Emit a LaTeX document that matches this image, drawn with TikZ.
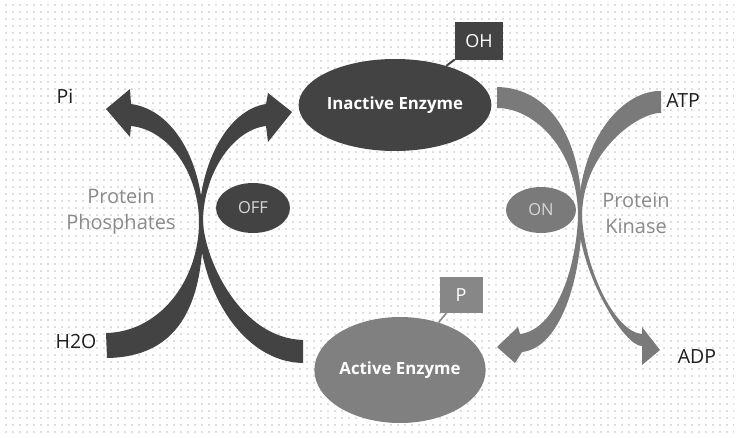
\documentclass[tikz,border=0pt]{standalone}
\usepackage{fontspec}
\setmainfont{Open Sans}
\usetikzlibrary{shapes.geometric,patterns.meta}
\definecolor{darkg}{HTML}{434343}
\definecolor{midg}{HTML}{7A7A7A}
\definecolor{actg}{HTML}{808080}
\definecolor{boxg}{HTML}{878787}
\definecolor{txtg}{HTML}{8A8A8A}
\definecolor{offtxt}{HTML}{D8D8D8}
\definecolor{lbl}{HTML}{1E1E1E}
\begin{document}
\begin{tikzpicture}[x=1pt,y=-1pt,
  enz/.style={ellipse, inner sep=0pt, text=white, font=\fontsize{16.8}{20}\selectfont\bfseries},
  tagbox/.style={rectangle, inner sep=0pt, text=white, font=\fontsize{18}{20}\selectfont},
  sw/.style={ellipse, inner sep=0pt, text=offtxt, font=\fontsize{16.5}{20}\selectfont},
  plab/.style={align=center, text=txtg, inner sep=0pt, font=\fontsize{20}{26}\selectfont},
  lab/.style={text=lbl, inner sep=0pt, font=\fontsize{19.5}{22}\selectfont},
  darkarrow/.style={fill=darkg},
  grayarrow/.style={fill=midg}]
\useasboundingbox (0,0) rectangle (738,438);
\fill[white] (0,0) rectangle (738,438);
\fill[pattern={Dots[distance=6.5pt,radius=0.7pt]}, pattern color=black!55] (4,4) rectangle (734,434);

% left ")" arrow: H2O -> Pi
\fill[darkarrow] (106,333) .. controls (160,332) and (199,280) .. (199,222)
  .. controls (199,175) and (170,130) .. (131,126)
  -- (130,137) -- (106,109) -- (130,89) -- (131,104)
  .. controls (175,110) and (203,165) .. (203,222)
  .. controls (204,310) and (175,357) .. (107,358) -- cycle;
% left "(" arrow: Active -> Inactive
\fill[darkarrow] (303,340) .. controls (240,338) and (205,260) .. (203,222)
  .. controls (203,175) and (232,130) .. (266,126)
  -- (268,142) -- (292,112) -- (268,93) -- (266,104)
  .. controls (227,110) and (199,165) .. (199,222)
  .. controls (199,285) and (240,362) .. (303,363) -- cycle;
% right ")" arrow: Inactive -> Active
\fill[grayarrow] (497,87) .. controls (548,88) and (582,135) .. (582,217)
  .. controls (581,280) and (560,348) .. (522,352)
  -- (515,363) -- (497,347) -- (518,327) -- (520,334)
  .. controls (555,330) and (576,270) .. (578,217)
  .. controls (578,150) and (535,108) .. (497,108) -- cycle;
% right "(" arrow: ATP -> ADP
\fill[grayarrow] (661,91) .. controls (625,90) and (580,135) .. (578,217)
  .. controls (580,275) and (625,347) .. (642,346)
  -- (642,365) -- (660,350) -- (642,327) -- (642,334)
  .. controls (615,332) and (585,270) .. (582,217)
  .. controls (582,150) and (640,112) .. (661,113) -- cycle;

\node[enz, fill=darkg, minimum width=164pt, minimum height=92pt] (inactive) at (395,105) {Inactive Enzyme};
\node[enz, fill=actg, minimum width=164pt, minimum height=106pt] (active) at (400,370) {Active Enzyme};
\node[tagbox, fill=darkg, minimum width=48pt, minimum height=38pt] (oh) at (479,41) {OH};
\node[tagbox, fill=boxg, minimum width=43pt, minimum height=36pt] (p) at (461,295) {P};
\draw[darkg, line width=2pt] (oh) -- (inactive);
\draw[boxg, line width=1.6pt] (p) -- (active);

\node[sw, fill=darkg, minimum width=74pt, minimum height=50pt] (off) at (253,208) {OFF};
\node[sw, fill=midg, minimum width=70pt, minimum height=46pt] (on) at (541,210) {ON};

\node[plab] (pp) at (121,212) {Protein\\Phosphates};
\node[plab] (pk) at (636,213) {Protein\\Kinase};

\node[lab] (pi) at (65,96) {Pi};
\node[lab] (h2o) at (76,342) {H2O};
\node[lab] (atp) at (683,101) {ATP};
\node[lab] (adp) at (697,357) {ADP};
\end{tikzpicture}
\end{document}
